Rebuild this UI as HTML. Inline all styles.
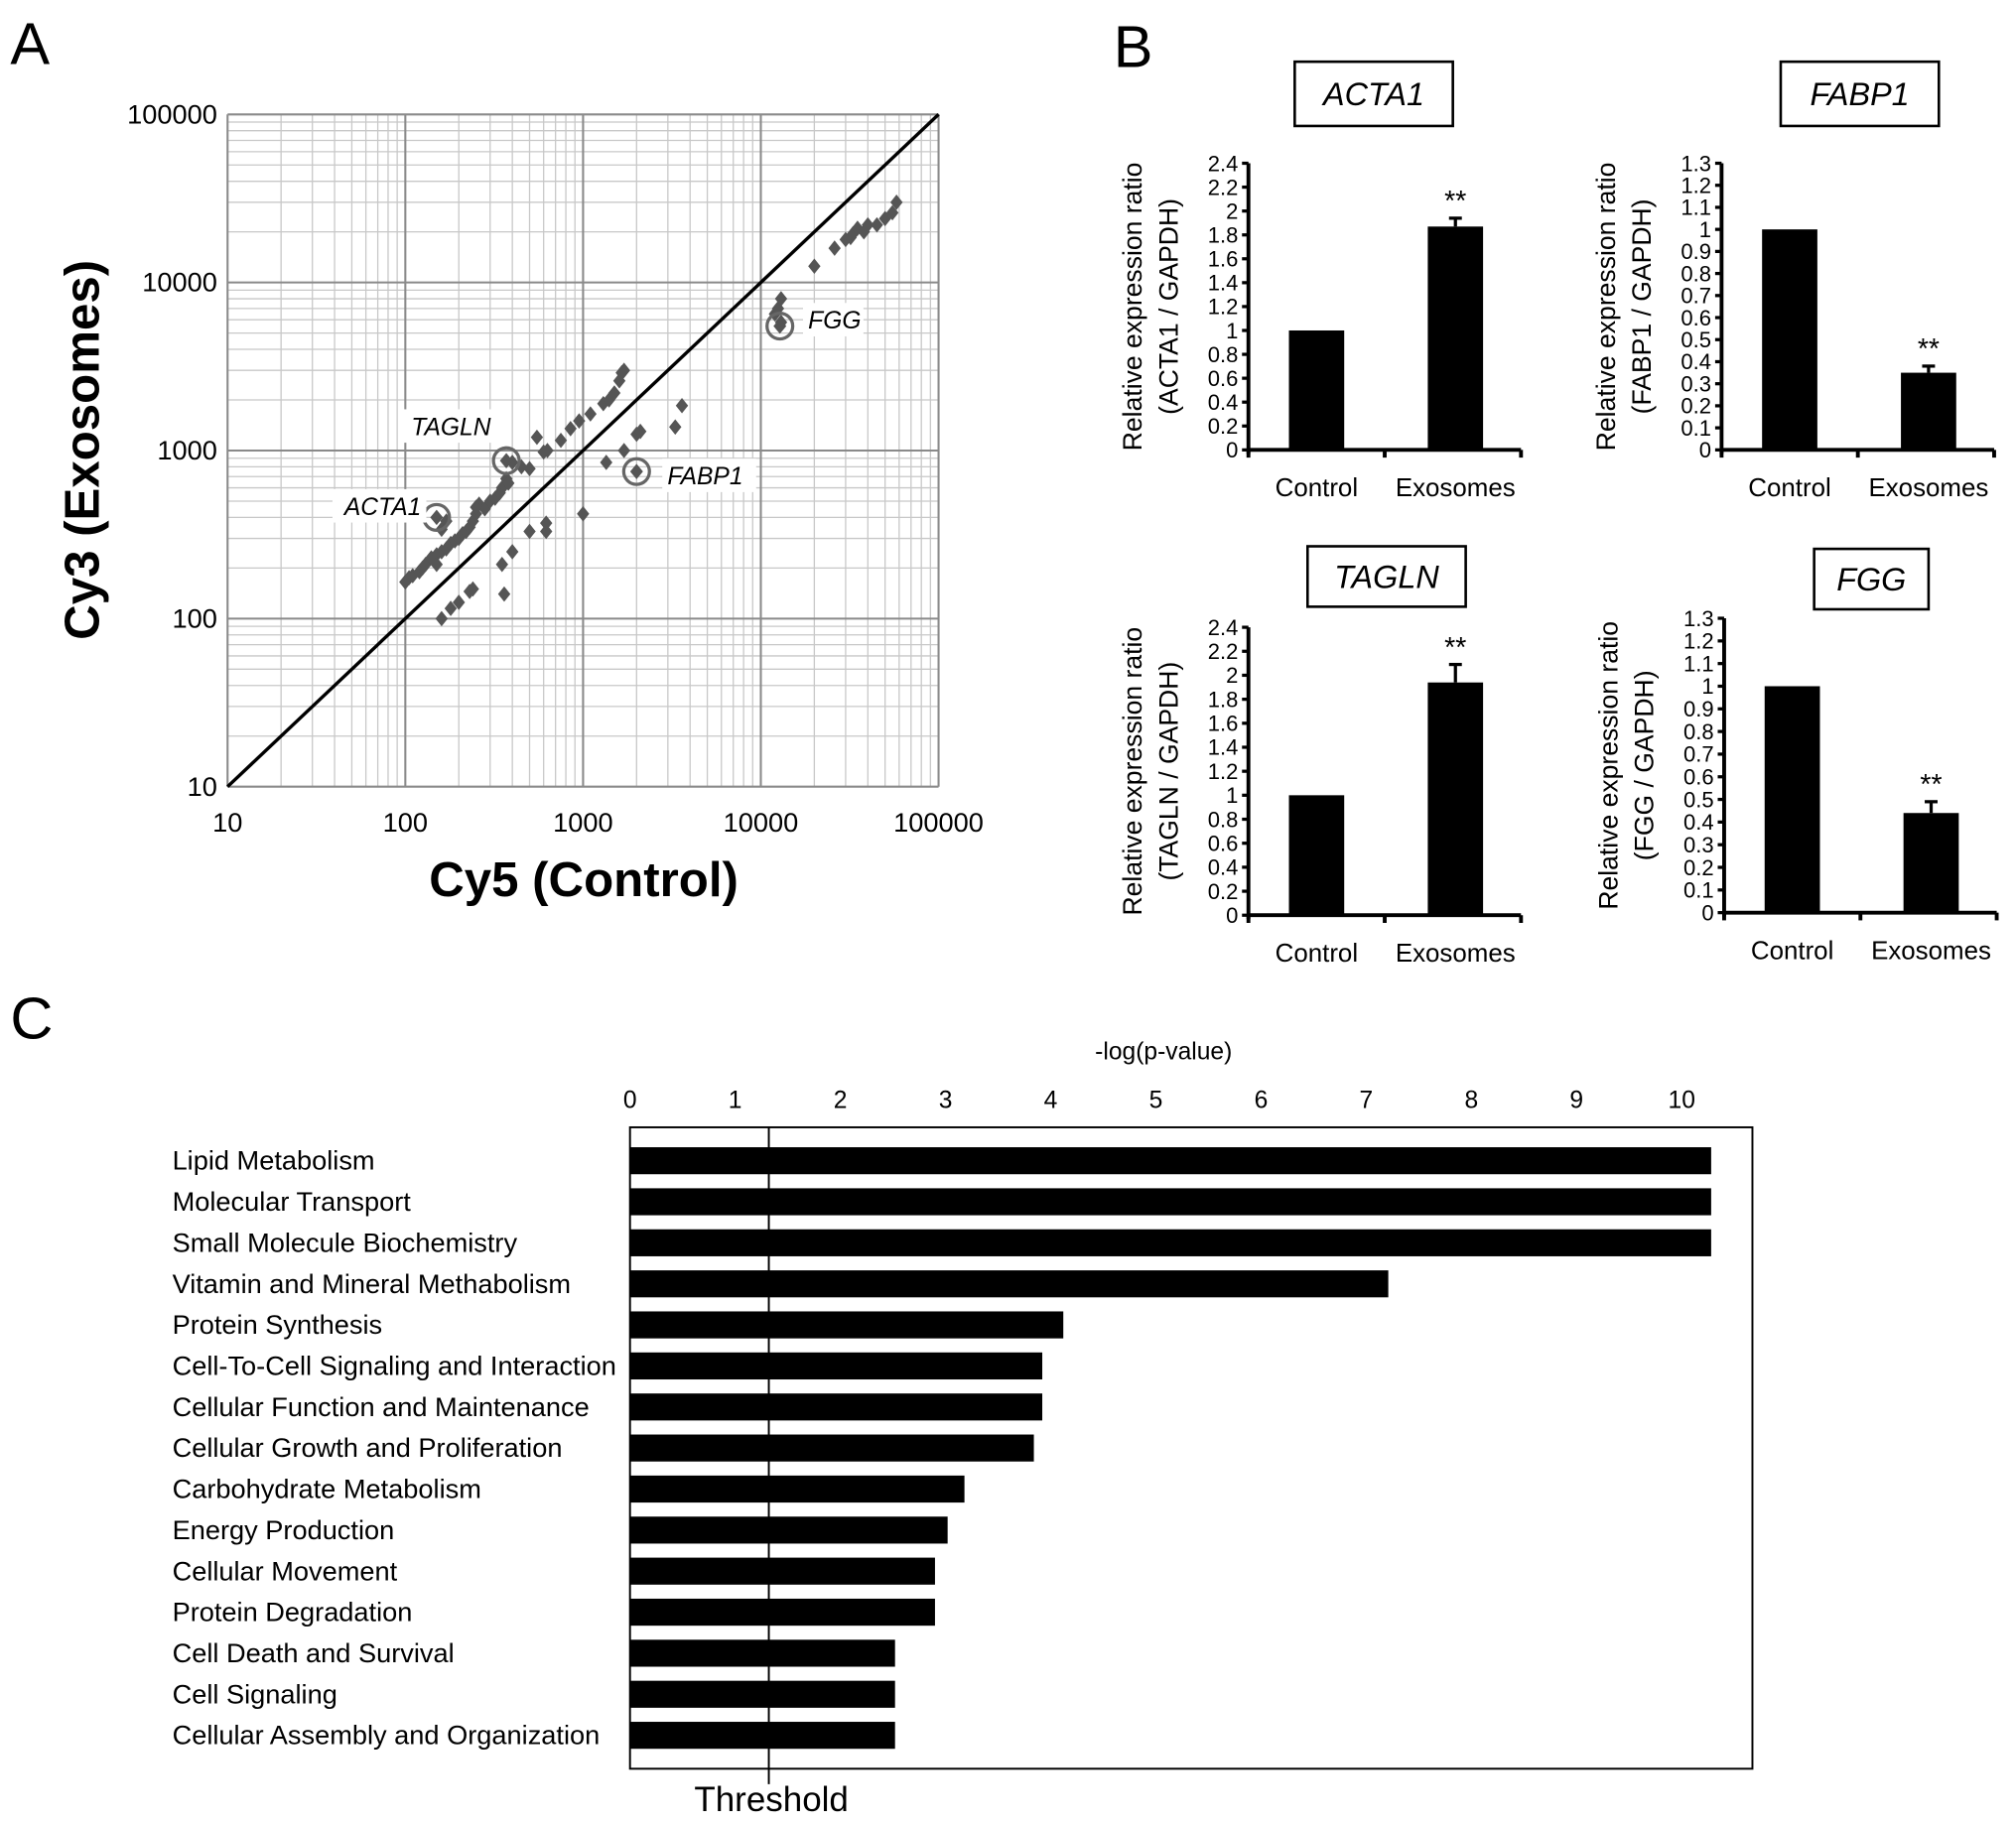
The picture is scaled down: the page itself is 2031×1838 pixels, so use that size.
<!DOCTYPE html>
<html><head><meta charset="utf-8"><style>
html,body{margin:0;padding:0;background:#fff;}
svg{display:block;font-family:"Liberation Sans",sans-serif;}
</style></head><body>
<svg id="fig" width="2031" height="1838" viewBox="0 0 1568 1419" xmlns="http://www.w3.org/2000/svg">
<rect width="1568" height="1419" fill="#fff"/>
<text x="8" y="50" font-size="46">A</text>
<text x="866" y="52" font-size="46">B</text>
<text x="8" y="808" font-size="46">C</text>
<g id="pa"></g>
<g id="pb"></g>
<g id="pc"></g>
</svg>
<script>
const NS="http://www.w3.org/2000/svg";
function mk(p,t,a,txt){const e=document.createElementNS(NS,t);for(const k in a)e.setAttribute(k,a[k]);if(txt!==undefined)e.textContent=txt;p.appendChild(e);return e;}

// ---------- Panel A data ----------
const scatterX=[100,105,110,120,125,130,140,150,160,170,180,190,200,210,220,230,240,250,260,280,300,320,340,350,360,370,380,400,450,500,550,600,630,750,850,950,1100,1300,1400,1500,1600,1650,1700,160,170,150,250,
160,180,200,230,240,350,360,400,500,620,620,1000,1350,1700,2000,2100,3300,3600,
12000,12500,13000,13000,20000,26000,30000,32000,33000,35000,38000,40000,45000,50000,55000,58000];
const scatterY=[165,175,180,190,200,210,230,240,250,260,280,290,300,320,330,350,380,420,480,450,500,520,560,600,620,680,640,850,800,780,1200,980,1000,1150,1350,1500,1650,1900,2000,2200,2600,2900,3000,340,380,210,460,
100,115,125,145,150,210,140,250,330,330,370,420,850,1000,1250,1300,1380,1850,
6500,7000,8000,5800,12500,16000,18000,18500,19500,21000,20000,22000,22000,24000,26000,30000];
const highlightNames=["ACTA1","TAGLN","FABP1","FGG"];
const highlightX=[150,370,2000,12800];
const highlightY=[400,870,750,5500];
const axisTicksA=[10,100,1000,10000,100000];

const pa=document.getElementById('pa');
const AX0=177,AX1=730,AY0=612,AY1=89;
const xA=v=>AX0+(Math.log10(v)-1)/4*(AX1-AX0);
const yA=v=>AY0-(Math.log10(v)-1)/4*(AY0-AY1);
for(let d=10;d<100000;d*=10){for(let m=2;m<=9;m++){const v=d*m;
 let l=mk(pa,'line',{x1:xA(v),x2:xA(v),y1:AY1,y2:AY0,stroke:'#c8c8c8','stroke-width':1});
 
 l=mk(pa,'line',{x1:AX0,x2:AX1,y1:yA(v),y2:yA(v),stroke:'#c8c8c8','stroke-width':1});
 }}
axisTicksA.forEach(v=>{
 let l=mk(pa,'line',{x1:xA(v),x2:xA(v),y1:AY1,y2:AY0,stroke:'#8a8a8a','stroke-width':1.6});
 
 l=mk(pa,'line',{x1:AX0,x2:AX1,y1:yA(v),y2:yA(v),stroke:'#8a8a8a','stroke-width':1.6});
 
 let t=mk(pa,'text',{x:xA(v),y:AY0+35,'font-size':21,'text-anchor':'middle'},String(v));
 
 t=mk(pa,'text',{x:AX0-8,y:yA(v)+7,'font-size':21,'text-anchor':'end'},String(v));
 
});
let diag=mk(pa,'line',{x1:xA(10),y1:yA(10),x2:xA(100000),y2:yA(100000),stroke:'#000','stroke-width':2.6});

scatterX.forEach((v,i)=>{const cx=xA(v),cy=yA(scatterY[i]),r=6;
 const p=mk(pa,'polygon',{points:`${cx},${cy-r} ${cx+r*0.8},${cy} ${cx},${cy+r} ${cx-r*0.8},${cy}`,fill:'#555'});
 });
const labOff=[[-62,-2,'end'],[-12,-20,'end'],[24,10,'start'],[22,2,'start']];
highlightX.forEach((v,i)=>{const cx=xA(v),cy=yA(highlightY[i]);
 const pt=mk(pa,'polygon',{points:`${cx},${cy-6} ${cx+5},${cy} ${cx},${cy+6} ${cx-5},${cy}`,fill:'#555'});
 
 const c=mk(pa,'circle',{cx:cx,cy:cy,r:10,fill:'none',stroke:'#666','stroke-width':2.5});
 
 const o=labOff[i];const tx=i===0?cx-12:cx+o[0];
 const w=highlightNames[i].length*13+8;
 const bx=o[2]==='end'?tx-w+4:tx-4;
 const bg=mk(pa,'rect',{x:bx,y:cy+o[1]-20,width:w,height:26,fill:'#fff'});
 
 const t=mk(pa,'text',{x:tx,y:cy+o[1],'font-size':19,'font-style':'italic','text-anchor':o[2]},highlightNames[i]);
 
});
let xt=mk(pa,'text',{x:454,y:697,'font-size':38,'font-weight':'bold','text-anchor':'middle'},'Cy5 (Control)');

let yt=mk(pa,'text',{x:0,y:0,'font-size':38,'font-weight':'bold','text-anchor':'middle',transform:'translate(77,350) rotate(-90)'},'Cy3 (Exosomes)');


// ---------- Panel B data ----------
const genes=["ACTA1","FABP1","TAGLN","FGG"];
const barCategories=["Control","Exosomes"];
const controlVals=[1,1,1,1];
const exoVals=[1.87,0.35,1.94,0.44];
const exoErr=[0.07,0.03,0.15,0.05];
const yMaxes=[2.4,1.3,2.4,1.3];
const yStepsB=[0.2,0.1,0.2,0.1];
const layout=[
 {ax:971,y0:350,yt:127,box:[1007,48,123,50]},
 {ax:1339,y0:350,yt:127,box:[1385,48,123,50]},
 {ax:971,y0:712,yt:488,box:[1017,425,123,47]},
 {ax:1341,y0:710,yt:481,box:[1411,427,89,47]}];
const pb=document.getElementById('pb');
genes.forEach((g,k)=>{const L=layout[k];const G=mk(pb,'g',{});
 
 const b=L.box;
 const br=mk(G,'rect',{x:b[0],y:b[1],width:b[2],height:b[3],fill:'#fff',stroke:'#000','stroke-width':2});
 
 const tt=mk(G,'text',{x:b[0]+b[2]/2,y:b[1]+b[3]/2+9,'font-size':25,'font-style':'italic','text-anchor':'middle'},g);
 
 const yB=v=>L.y0-v/yMaxes[k]*(L.y0-L.yt);
 const xr=L.ax+212;
 const bw=43;const cx=[L.ax+53,L.ax+161];
 const vals=[controlVals[k],exoVals[k]];
 vals.forEach((v,j)=>{const r=mk(G,'rect',{x:cx[j]-bw/2,y:yB(v),width:bw,height:L.y0-yB(v),fill:'#000'});
  
  const t=mk(G,'text',{x:cx[j],y:L.y0+36,'font-size':20,'text-anchor':'middle'},barCategories[j]);
  });
 const top=exoVals[k]+exoErr[k];
 const e1=mk(G,'line',{x1:cx[1],x2:cx[1],y1:yB(exoVals[k]),y2:yB(top),stroke:'#000','stroke-width':2.5});
 
 const e2=mk(G,'line',{x1:cx[1]-5,x2:cx[1]+5,y1:yB(top),y2:yB(top),stroke:'#000','stroke-width':2.5});
 
 const st=mk(G,'text',{x:cx[1],y:yB(top)-6,'font-size':22,'text-anchor':'middle'},'**');
 
 const a1=mk(G,'line',{x1:L.ax,x2:L.ax,y1:L.yt,y2:L.y0+3,stroke:'#000','stroke-width':3});
 
 const a2=mk(G,'line',{x1:L.ax,x2:xr,y1:L.y0,y2:L.y0,stroke:'#000','stroke-width':3});
 
 [L.ax,L.ax+106,xr].forEach(x=>{const t=mk(G,'line',{x1:x,x2:x,y1:L.y0,y2:L.y0+6,stroke:'#000','stroke-width':3});
  });
 const n=Math.round(yMaxes[k]/yStepsB[k]);
 for(let i=0;i<=n;i++){const v=+(i*yStepsB[k]).toFixed(1);const y=yB(v);
  const tk=mk(G,'line',{x1:L.ax-5,x2:L.ax,y1:y,y2:y,stroke:'#000','stroke-width':2.5});
  
  const tl=mk(G,'text',{x:L.ax-8,y:y+6,'font-size':17,'text-anchor':'end'},String(v));
  }
 const my=(L.y0+L.yt)/2;
 const l1=mk(G,'text',{x:0,y:0,'font-size':20.5,'text-anchor':'middle',transform:`translate(${L.ax-83},${my}) rotate(-90)`},'Relative expression ratio');
 
 const l2=mk(G,'text',{x:0,y:0,'font-size':20.5,'text-anchor':'middle',transform:`translate(${L.ax-55},${my}) rotate(-90)`},`(${g} / GAPDH)`);
 
});

// ---------- Panel C data ----------
const pathways=["Lipid Metabolism","Molecular Transport","Small Molecule Biochemistry","Vitamin and Mineral Methabolism","Protein Synthesis","Cell-To-Cell Signaling and Interaction","Cellular Function and Maintenance","Cellular Growth and Proliferation","Carbohydrate Metabolism","Energy Production","Cellular Movement","Protein Degradation","Cell Death and Survival","Cell Signaling","Cellular Assembly and Organization"];
const logP=[10.28,10.28,10.28,7.21,4.12,3.92,3.92,3.84,3.18,3.02,2.9,2.9,2.52,2.52,2.52];
const cTicks=[0,1,2,3,4,5,6,7,8,9,10];
const threshold=1.32;
const pc=document.getElementById('pc');
const CX0=490,CX1=1363,CY0=877,CY1=1376,U=81.8;
const xC=v=>CX0+v*U;
const yC=i=>903+i*(1350-903)/(pathways.length-1);
const frame=mk(pc,'rect',{x:CX0,y:CY0,width:CX1-CX0,height:CY1-CY0,fill:'none',stroke:'#000','stroke-width':1.5});

const ct=mk(pc,'text',{x:905,y:824,'font-size':19,'text-anchor':'middle'},'-log(p-value)');

cTicks.forEach(v=>{const t=mk(pc,'text',{x:xC(v),y:862,'font-size':19,'text-anchor':'middle'},String(v));
 });
pathways.forEach((p,i)=>{const y=yC(i);
 const r=mk(pc,'rect',{x:CX0,y:y-10.5,width:logP[i]*U,height:21,fill:'#000'});
 
 const t=mk(pc,'text',{x:134,y:y+7,'font-size':21},p);
 });
const th=mk(pc,'line',{x1:xC(threshold),x2:xC(threshold),y1:CY0,y2:1388,stroke:'#000','stroke-width':1.5});

const tht=mk(pc,'text',{x:xC(threshold)+2,y:1409,'font-size':27,'text-anchor':'middle'},'Threshold');

</script>
</body></html>
